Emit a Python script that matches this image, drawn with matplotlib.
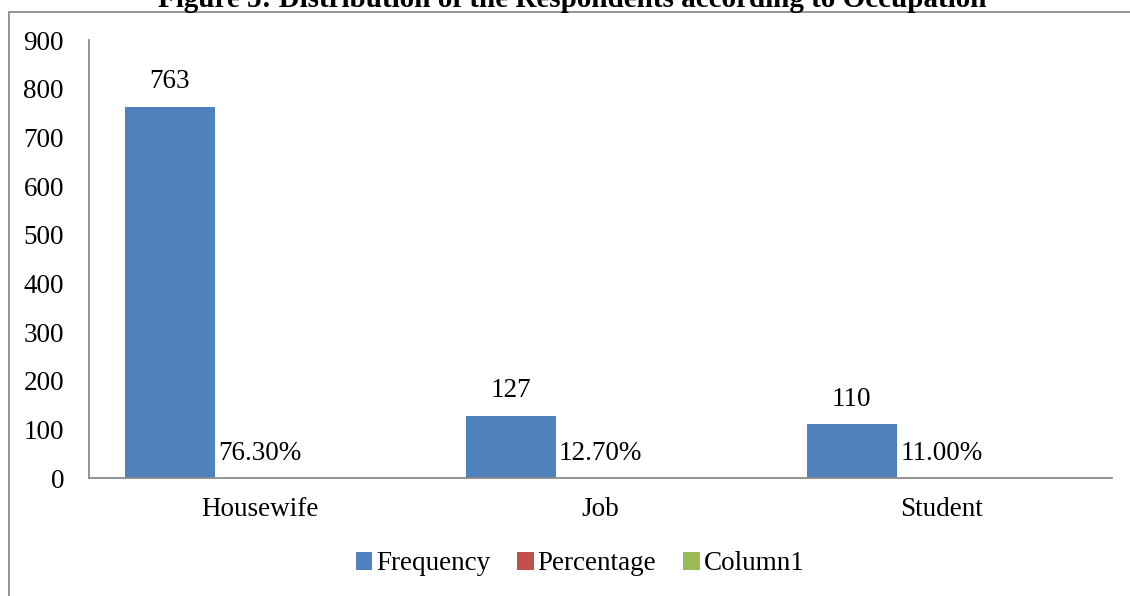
import matplotlib
matplotlib.use("Agg")
import matplotlib.pyplot as plt
from matplotlib.patches import Rectangle
import numpy as np

categories = ["Housewife", "Job", "Student"]
frequency = [763, 127, 110]
percentage = [0.763, 0.127, 0.110]
column1 = [0, 0, 0]
y_ticks = [0, 100, 200, 300, 400, 500, 600, 700, 800, 900]

plt.rcParams['font.family'] = ['Liberation Serif', 'DejaVu Serif']

W, H = 1130, 596
FS = 19.5
fig = plt.figure(figsize=(W / 100, H / 100), dpi=100)

# outer chart frame
fig.patches.append(Rectangle((9 / W, -0.05), 1.2, 1 - 12 / H + 0.05,
                             transform=fig.transFigure, fill=False,
                             edgecolor="#8c8c8c", linewidth=1.3))

ax = fig.add_axes([89 / W, 1 - 478 / H, (1112 - 89) / W, (478 - 40) / H])

x = np.arange(len(categories))
bw = 90 / 341
blue, red, green = "#4f81bd", "#c0504d", "#9bbb59"

b1 = ax.bar(x - bw, frequency, bw, color=blue, label="Frequency")
b2 = ax.bar(x, percentage, bw, color=red, label="Percentage")
b3 = ax.bar(x + bw, column1, bw, color=green, label="Column1")

for xi, v in zip(x, frequency):
    ax.annotate(f"{v}", (xi - bw, v), xytext=(0, 13.5), textcoords="offset points",
                ha="center", va="baseline", fontsize=FS)
for xi, v in zip(x, percentage):
    ax.annotate(f"{v * 100:.2f}%", (xi, v), xytext=(0, 13), textcoords="offset points",
                ha="center", va="baseline", fontsize=FS)

ax.set_xlim(-0.5, 2.5)
ax.set_ylim(0, 900)
ax.set_yticks(y_ticks)
ax.set_xticks(x)
ax.set_xticklabels(categories)
ax.tick_params(axis="both", length=0, labelsize=FS)
ax.tick_params(axis="y", pad=18)
ax.tick_params(axis="x", pad=14)
for s in ["top", "right"]:
    ax.spines[s].set_visible(False)
for s in ["left", "bottom"]:
    ax.spines[s].set_color("#8c8c8c")
    ax.spines[s].set_linewidth(1.3)

fig.text(572 / W, 1 - 7 / H, "Figure 5: Distribution of the Respondents according to Occupation",
         ha="center", va="baseline", fontsize=21, fontweight="bold")

leg = fig.legend(handles=[b1, b2, b3], loc="center", bbox_to_anchor=(580 / W, 1 - 564 / H),
                 ncol=3, frameon=False, fontsize=FS, handlelength=0.6, handleheight=0.6,
                 handletextpad=0.15, columnspacing=1.0)

fig.savefig("out.png", dpi=100)
